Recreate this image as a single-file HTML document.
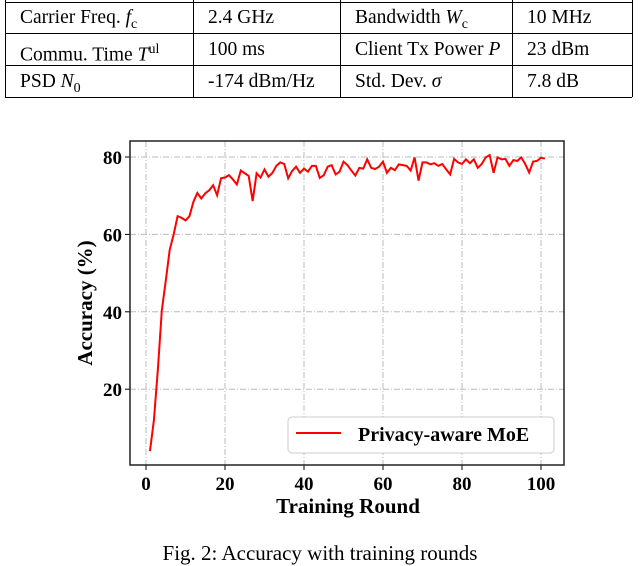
<!DOCTYPE html>
<html><head><meta charset="utf-8"><style>
body{margin:0;width:640px;height:550px;overflow:hidden;background:#fff;font-family:"Liberation Serif",serif;position:relative}
#tbl{position:absolute;left:0;top:0;width:640px;height:100px}
.c{position:absolute;font-size:19.5px;white-space:nowrap;line-height:20px}
.h{position:absolute;height:1px;background:#000;left:5px;width:627px}
.v{position:absolute;width:1px;background:#000;top:0;height:97px}
#cap{position:absolute;top:541px;width:640px;text-align:center;font-size:21px}
</style></head><body>
<div id="tbl">
<div class="h" style="top:2px"></div><div class="h" style="top:33px"></div><div class="h" style="top:65px"></div><div class="h" style="top:97px"></div>
<div class="v" style="left:5px"></div><div class="v" style="left:193px"></div><div class="v" style="left:340px"></div><div class="v" style="left:512px"></div><div class="v" style="left:632px"></div>
<div class="c" style="left:20px;top:8px">Carrier Freq. <i>f</i><sub style="font-size:14px">c</sub></div>
<div class="c" style="left:208px;top:8px">2.4 GHz</div>
<div class="c" style="left:355px;top:8px">Bandwidth <i>W</i><sub style="font-size:14px">c</sub></div>
<div class="c" style="left:527px;top:8px">10 MHz</div>
<div class="c" style="left:20px;top:40px">Commu. Time <i>T</i><sup style="font-size:14px">ul</sup></div>
<div class="c" style="left:208px;top:40px">100 ms</div>
<div class="c" style="left:355px;top:40px">Client Tx Power <i>P</i></div>
<div class="c" style="left:527px;top:40px">23 dBm</div>
<div class="c" style="left:20px;top:72px">PSD <i>N</i><sub style="font-size:14px">0</sub></div>
<div class="c" style="left:208px;top:72px">-174 dBm/Hz</div>
<div class="c" style="left:355px;top:72px">Std. Dev. <i>σ</i></div>
<div class="c" style="left:527px;top:72px">7.8 dB</div>
</div>
<svg id="chart" width="640" height="550" style="position:absolute;left:0;top:0"></svg>
<div id="cap">Fig. 2: Accuracy with training rounds</div>
<script>
const rounds=[];for(let i=1;i<=101;i++)rounds.push(i);
const accuracy=[4,12,25,40.3,48,56,60,64.7,64.3,63.6,64.7,68.4,70.7,69.3,70.6,71.4,72.7,70.1,74.5,74.7,75.3,74.2,72.9,76.5,75.8,75.1,68.6,75.8,74.7,76.8,74.9,75.9,77.7,78.6,78.2,74.5,76.4,77.5,75.9,77,76.2,77.7,77.7,74.6,75.3,77.5,77.9,75.5,76.2,78.8,77.9,76.5,75.2,77.2,77,79.4,77.2,76.9,77.5,78.8,75.9,77.2,76.6,78.1,77.9,77.7,76.5,79.9,73.9,78.6,78.6,78.1,78.4,77.7,78.2,76.8,75.5,79.5,78.6,78.2,79.4,78.4,79.4,77.2,78.2,79.9,80.5,75.9,79.9,79.4,79.5,77.7,79.2,79,79.9,78.2,76,78.8,79,79.8,79.6];
const xTicks=[0,20,40,60,80,100];
const yTicks=[20,40,60,80];
const L=130,R=564,T=141,B=465;
const sx=v=>146+v*3.95, sy=v=>157-(v-80)*3.87;
const svg=document.getElementById('chart');const NS='http://www.w3.org/2000/svg';
function mk(t,a,txt){const e=document.createElementNS(NS,t);for(const k in a)e.setAttribute(k,a[k]);if(txt!=null)e.textContent=txt;svg.appendChild(e);return e;}
xTicks.forEach(v=>{
 const g=mk('line',{x1:sx(v),x2:sx(v),y1:T,y2:B,stroke:'#bbb','stroke-dasharray':'6,2,1,2'});
 
 mk('line',{x1:sx(v),x2:sx(v),y1:B,y2:B+5,stroke:'#000'});
 const t=mk('text',{x:sx(v),y:B+25,'text-anchor':'middle','font-size':19,'font-weight':'bold'},v);
 
});
yTicks.forEach(v=>{
 const g=mk('line',{x1:L,x2:R,y1:sy(v),y2:sy(v),stroke:'#bbb','stroke-dasharray':'6,2,1,2'});
 
 mk('line',{x1:L-5,x2:L,y1:sy(v),y2:sy(v),stroke:'#000'});
 const t=mk('text',{x:L-8,y:sy(v)+7,'text-anchor':'end','font-size':19,'font-weight':'bold'},v);
 
});
const fr=mk('rect',{x:L,y:T,width:R-L,height:B-T,fill:'none',stroke:'#222','stroke-width':1.5});

const p=mk('polyline',{points:rounds.map((r,i)=>sx(r)+','+sy(accuracy[i])).join(' '),fill:'none',stroke:'#f00','stroke-width':2});

const lg=mk('rect',{x:288,y:417,width:266,height:36,rx:4,fill:'#fff',stroke:'#ccc'});

mk('line',{x1:296,x2:341,y1:433,y2:433,stroke:'#f00','stroke-width':2});
const lt=mk('text',{x:358,y:441,'font-size':20,'font-weight':'bold'},'Privacy-aware MoE');

const xl=mk('text',{x:348,y:513,'text-anchor':'middle','font-size':21,'font-weight':'bold'},'Training Round');

const yl=mk('text',{x:0,y:0,'text-anchor':'middle','font-size':21,'font-weight':'bold',transform:'translate(92,303) rotate(-90)'},'Accuracy (%)');

</script>
</body></html>
